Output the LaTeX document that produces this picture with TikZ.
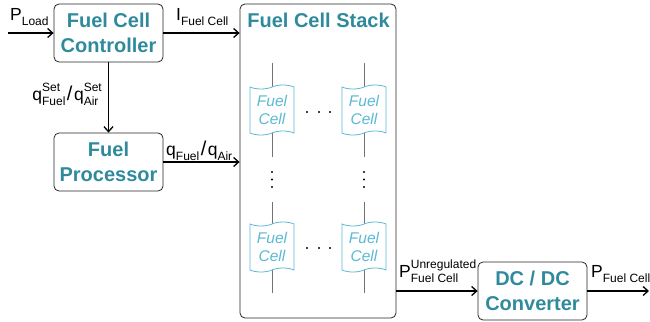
\documentclass[tikz,border=0pt]{standalone}
\usepackage{fontspec}
\setmainfont{Liberation Sans}
\usetikzlibrary{arrows.meta,shapes.symbols,calc}
\definecolor{boxtext}{HTML}{2F8A9C}
\definecolor{cellblue}{HTML}{5CB9D3}
\newcommand\subsz{\fontsize{12}{12}\selectfont}
\newsavebox\supbox
\newsavebox\subbox
\newcommand\qsub[2]{#1\raisebox{-5pt}{\subsz #2}}
\newcommand\qss[3]{#1%
 \sbox\supbox{\subsz #2}\sbox\subbox{\subsz #3}%
 \ifdim\wd\supbox>\wd\subbox
   \rlap{\raisebox{-5pt}{\usebox\subbox}}\raisebox{9pt}{\usebox\supbox}%
 \else
   \rlap{\raisebox{9pt}{\usebox\supbox}}\raisebox{-5pt}{\usebox\subbox}%
 \fi}
\newcommand\slsh{\kern1.5pt{\fontsize{20}{20}\selectfont/}\kern1.5pt}
\tikzset{
  block/.style={draw=black!85, line width=0.8pt, rounded corners=5pt, inner sep=0pt,
    text=boxtext, font=\fontsize{20}{25}\selectfont\bfseries, align=center},
  cell/.style={tape, draw=cellblue, line width=0.8pt, fill=white, text=cellblue,
    minimum width=44pt, minimum height=50pt, tape bend height=4pt, inner sep=0pt,
    font=\fontsize{15.5}{18}\selectfont\itshape, align=center},
  wire/.style={draw=black!55, line width=0.6pt},
  flow/.style={draw=black, line width=1.3pt, -{Straight Barb[length=5pt,width=9pt,line width=1.3pt]}},
  lbl/.style={anchor=base west, inner sep=0pt, font=\fontsize{17.5}{18}\selectfont},
  dotc/.style={circle, fill=black, inner sep=0pt, minimum size=2.4pt}
}
\begin{document}
\begin{tikzpicture}[x=1pt,y=-1pt]
\useasboundingbox (0,0) rectangle (650,321);
% blocks
\node[block, minimum width=109pt, minimum height=58pt] (ctrl) at (108.5,33) {Fuel Cell\\Controller};
\node[block, minimum width=109pt, minimum height=58pt] (fp) at (108.5,162) {Fuel\\Processor};
\node[block, minimum width=109pt, minimum height=58pt] (dcdc) at (532.5,291) {DC / DC\\Converter};
\node[draw=black!85, line width=0.8pt, rounded corners=5pt, minimum width=156pt, minimum height=314pt, inner sep=0pt] (stack) at (318,161) {};
\node[anchor=base, inner sep=0pt, text=boxtext, font=\fontsize{20}{25}\selectfont\bfseries] (stitle) at (318.5,28) {Fuel Cell Stack};
% wires through cells
\coordinate (w1t) at (272,63); \coordinate (w1b) at (272,157);
\coordinate (w2t) at (364,63); \coordinate (w2b) at (364,157);
\coordinate (w3t) at (272,202); \coordinate (w3b) at (272,293);
\coordinate (w4t) at (364,202); \coordinate (w4b) at (364,293);
\draw[wire] (w1t) -- (w1b);
\draw[wire] (w2t) -- (w2b);
\draw[wire] (w3t) -- (w3b);
\draw[wire] (w4t) -- (w4b);
\node[cell] (c11) at (272,110) {Fuel\\Cell};
\node[cell] (c12) at (364,110) {Fuel\\Cell};
\node[cell] (c21) at (272,247) {Fuel\\Cell};
\node[cell] (c22) at (364,247) {Fuel\\Cell};
% dots
\foreach \x in {307,319,330} {
  \node[dotc] (hd1\x) at (\x,112) {};
  \node[dotc] (hd2\x) at (\x,248) {};
}
\foreach \y in {172,179.5,187} {
  \node[dotc] (vd1\y) at (272,\y) {};
  \node[dotc] (vd2\y) at (364,\y) {};
}
% connectors
\coordinate (pin) at (8,33);
\coordinate (pout) at (649,291);
\draw[flow] (pin) -- (ctrl.west);
\draw[flow] (ctrl.east) -- (stack.west |- ctrl.east);
\draw[flow] (ctrl.south) -- (fp.north);
\draw[flow] (fp.east) -- (stack.west |- fp.east);
\draw[flow] (stack.east |- dcdc.west) -- (dcdc.west);
\draw[flow] (dcdc.east) -- (pout);
% labels
\node[lbl] (lPload) at (10,21) {\qsub{P}{Load}};
\node[lbl] (lI) at (176,21) {\qsub{I}{Fuel Cell}};
\node[lbl, anchor=base east] (lqset) at (102,100) {\qss{q}{Set}{Fuel}\slsh\qss{q}{Set}{Air}};
\node[lbl] (lq) at (166,155) {\qsub{q}{Fuel}\slsh\qsub{q}{Air}};
\node[lbl] (lPun) at (399,277) {\qss{P}{Unregulated}{Fuel Cell}};
\node[lbl] (lPfc) at (591,277) {\qsub{P}{Fuel Cell}};
\end{tikzpicture}
\end{document}
